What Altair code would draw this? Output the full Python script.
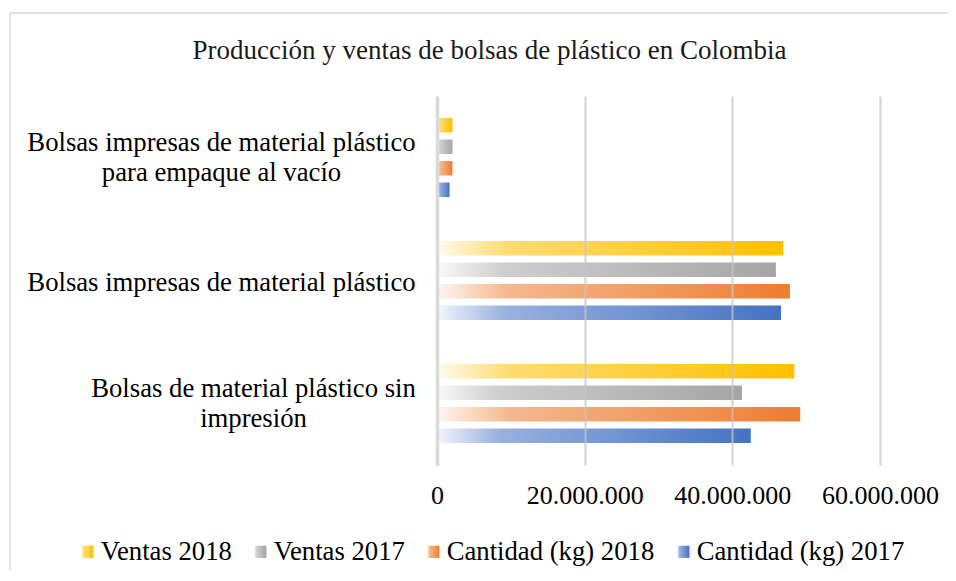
import json
import altair as alt
import pandas as pd

# ---- data -------------------------------------------------------------
categorias = [
    "Bolsas impresas de material plástico para empaque al vacío",
    "Bolsas impresas de material plástico",
    "Bolsas de material plástico sin impresión",
]
series = ["Ventas 2018", "Ventas 2017", "Cantidad (kg) 2018", "Cantidad (kg) 2017"]
ventas_2018 = [2_100_000, 46_900_000, 48_400_000]
ventas_2017 = [2_100_000, 45_900_000, 41_300_000]
cantidad_2018 = [2_100_000, 47_800_000, 49_200_000]
cantidad_2017 = [1_700_000, 46_600_000, 42_500_000]
ticks_x = [0, 20_000_000, 40_000_000, 60_000_000]
lineas_etiqueta = {
    categorias[0]: ["Bolsas impresas de material plástico", "para empaque al vacío"],
    categorias[2]: ["Bolsas de material plástico sin", "impresión"],
}
colores = ["#FFC000", "#A5A5A5", "#ED7D31", "#4472C4"]
titulo = "Producción y ventas de bolsas de plástico en Colombia"

valores = [ventas_2018, ventas_2017, cantidad_2018, cantidad_2017]
rows = []
for s, vals in zip(series, valores):
    for c, v in zip(categorias, vals):
        rows.append({"categoria": c, "serie": s, "valor": v})
df = pd.DataFrame(rows)

# ---- styling helpers --------------------------------------------------
def mix(hex_color, t):
    h = hex_color.lstrip("#")
    r, g, b = (int(h[i:i + 2], 16) for i in (0, 2, 4))
    r = round(r + (255 - r) * t)
    g = round(g + (255 - g) * t)
    b = round(b + (255 - b) * t)
    return "#%02X%02X%02X" % (r, g, b)


def grad_expr(c):
    return (
        "{'gradient': 'linear', 'x1': 0, 'y1': 0, 'x2': 1, 'y2': 0, 'stops': ["
        "{'offset': 0, 'color': '%s'}, {'offset': 0.2, 'color': '%s'}, "
        "{'offset': 1, 'color': '%s'}]}" % (mix(c, 0.93), mix(c, 0.45), c)
    )


FONT = "Liberation Serif"

label_expr = " : ".join(
    "datum.value == %s ? %s" % (json.dumps(k), json.dumps(v, ensure_ascii=False))
    for k, v in lineas_etiqueta.items()
) + " : datum.label"

yaxis = alt.Axis(
    title=None,
    ticks=False,
    tickSize=0,
    labelAlign="center",
    labelBaseline="middle",
    labelPadding={
        "condition": {"test": "datum.value == %s" % json.dumps(categorias[2]), "value": 184},
        "value": 216,
    },
    labelOffset={
        "condition": {"test": "datum.value == %s" % json.dumps(categorias[1]), "value": 2},
        "value": -15,
    },
    labelExpr=label_expr,
    labelFont=FONT,
    labelFontSize=26.7,
    labelLineHeight=30,
    labelColor="#000000",
    labelLimit=0,
    domain=True,
    domainColor="#D9D9D9",
    domainWidth=3.5,
    grid=False,
    zindex=1,
)

xaxis = alt.Axis(
    title=None,
    values=ticks_x,
    ticks=False,
    domain=False,
    grid=True,
    gridColor="#C4C4C4",
    gridOpacity=0.7,
    gridWidth=2.2,
    labelExpr="replace(format(datum.value, ','), /,/g, '.')",
    labelFont=FONT,
    labelFontSize=26,
    labelColor="#000000",
    labelPadding=17,
    labelFlush=False,
    labelOverlap=False,
    zindex=1,
)

bars = alt.Chart(df).mark_bar(strokeWidth=0).encode(
    x=alt.X("valor:Q", scale=alt.Scale(domain=[0, 60_000_000], nice=False), axis=xaxis),
    y=alt.Y(
        "categoria:N",
        scale=alt.Scale(domain=categorias, paddingInner=0.3, paddingOuter=0.15),
        axis=yaxis,
    ),
    yOffset=alt.YOffset(
        "serie:N",
        scale=alt.Scale(domain=series, paddingInner=0.326, paddingOuter=0.163),
    ),
    fill=alt.Fill(
        "serie:N",
        scale=alt.Scale(domain=series, range=[{"expr": grad_expr(c)} for c in colores]),
        legend=alt.Legend(
            title=None,
            orient="none",
            direction="horizontal",
            legendX=-363,
            legendY=442,
            padding=0,
            symbolType="square",
            symbolSize=150,
            symbolStrokeWidth=0,
            labelFont=FONT,
            labelFontSize=26.7,
            labelColor="#000000",
            labelOffset=0,
            columnPadding=15,
            labelLimit=0,
        ),
    ),
)

marco = pd.DataFrame({"k": [0]})
borde_izq = alt.Chart(marco).mark_rule(color="#D9D9D9", strokeWidth=1.5).encode(
    x=alt.value(-427), y=alt.value(-83), y2=alt.value(474)
)
borde_sup = alt.Chart(marco).mark_rule(color="#D9D9D9", strokeWidth=1.5).encode(
    x=alt.value(-427), x2=alt.value(511), y=alt.value(-83)
)

chart = (
    alt.layer(borde_izq, borde_sup, bars)
    .properties(
        width=443,
        height=369,
        title=alt.TitleParams(
            text=titulo,
            font=FONT,
            fontSize=27,
            fontWeight="normal",
            color="#1A1A1A",
            anchor="middle",
            frame="group",
            dx=-169,
            offset=-53,
        ),
        autosize=alt.AutoSizeParams(type="none"),
        padding={"left": 429, "top": 88, "right": 68, "bottom": 105},
    )
    .configure_view(stroke=None)
)

chart.save("out.html", embed_options={"renderer": "svg", "actions": False})
